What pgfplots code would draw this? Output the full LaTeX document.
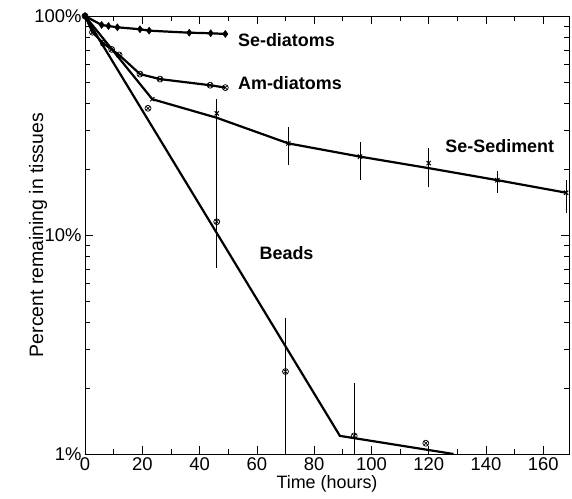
\documentclass[border=0pt]{standalone}
\usepackage{fontspec}
\setmainfont{Liberation Sans}
\usepackage{pgfplots}
\pgfplotsset{compat=1.18}

\begin{document}
\begin{tikzpicture}
\useasboundingbox (-85bp,-45bp) rectangle (487bp,454bp);
\begin{axis}[
    at={(0,0)}, anchor=south west,
    scale only axis,
    width=484bp, height=438bp,
    ymode=log,
    xmin=0, xmax=169,
    ymin=1, ymax=100,
    xtick={0,20,...,160},
    minor x tick num=1,
    ytick={1,10,100},
    yticklabels={1\%,10\%,100\%},
    tick style={black, line width=0.6pt},
    major tick length=8bp,
    minor tick length=5bp,
    axis line style={line width=0.9pt},
    tick label style={font=\fontsize{18.5}{18.5}\selectfont},
    /pgf/number format/assume math mode=true,
    xlabel={Time (hours)},
    ylabel={Percent remaining in tissues},
    xlabel style={font=\fontsize{18}{18}\selectfont, at={([yshift=-30bp]axis description cs:0.5,0)}, anchor=center},
    ylabel style={font=\fontsize{19.5}{20}\selectfont, at={([xshift=-47bp]axis description cs:0,0.5)}, anchor=center},
    clip=true,
]

% Se-diatoms
\addplot[black, line width=2.2bp, mark=diamond*, mark size=3.5bp,
    mark options={line width=0.5pt}] coordinates {
    (0,100) (5.8,91.0) (8.2,90.0) (11.3,88.8) (19.2,87.0) (22.4,85.7)
    (36.4,83.9) (43.9,83.4) (49,82.8)
};

% Am-diatoms
\addplot[black, line width=2.2bp, mark=otimes, mark size=3bp,
    mark options={line width=0.7pt, fill=white}] coordinates {
    (0,100) (2.6,84.3) (6.4,75.0) (9.3,70.4) (11.9,66.4) (19.2,54.3)
    (26.2,51.5) (43.7,48.3) (49,47.1)
};

% Se-Sediment fitted line
\addplot[black, line width=2.2bp, mark=none] coordinates {
    (0,100) (23.5,41.7) (46,34.3) (71,26.2) (96,22.8) (120,20.2)
    (144,17.8) (168,15.6)
};
% Se-Sediment data with error bars
\addplot[black, only marks, mark=x, mark size=3bp, mark options={line width=1pt},
    error bars/.cd, y dir=both, y explicit, error mark=none,
    error bar style={line width=0.6pt, black}] coordinates {
    (23.5,41.7)
    (46,35.9) += (0,5.9) -= (0,5.9)
    (71,26.2) += (0,5.0) -= (0,5.3)
    (96,22.8) += (0,3.9) -= (0,5.0)
    (120,21.3) += (0,3.6) -= (0,4.7)
    (144,17.8) += (0,1.7) -= (0,2.3)
    (168,15.6) += (0,2.2) -= (0,3.0)
};

% Beads fitted line
\addplot[black, line width=2.2bp, mark=none] coordinates {
    (0,100) (89,1.21) (128.7,1.0)
};
% Beads data with error bars
\addplot[black, only marks, mark=otimes, mark size=3bp,
    mark options={line width=0.7pt, fill=white},
    error bars/.cd, y dir=both, y explicit, error mark=none,
    error bar style={line width=0.6pt, black}] coordinates {
    (22,37.9)
    (46,11.5) += (0,30.3) -= (0,4.45)
    (70,2.38) += (0,1.79) -= (0,1.38)
    (94,1.21) += (0,0.89) -= (0,0.21)
    (119,1.12)
};

\node[anchor=west, inner sep=0pt, font=\bfseries\fontsize{18}{18}\selectfont]
    at (axis cs:53.4,77.6) {Se-diatoms};
\node[anchor=west, inner sep=0pt, font=\bfseries\fontsize{18}{18}\selectfont]
    at (axis cs:53.4,49.2) {Am-diatoms};
\node[anchor=west, inner sep=0pt, font=\bfseries\fontsize{18}{18}\selectfont]
    at (axis cs:125.8,25.4) {Se-Sediment};
\node[anchor=west, inner sep=0pt, font=\bfseries\fontsize{18}{18}\selectfont]
    at (axis cs:60.9,8.23) {Beads};
\end{axis}
\end{tikzpicture}
\end{document}
